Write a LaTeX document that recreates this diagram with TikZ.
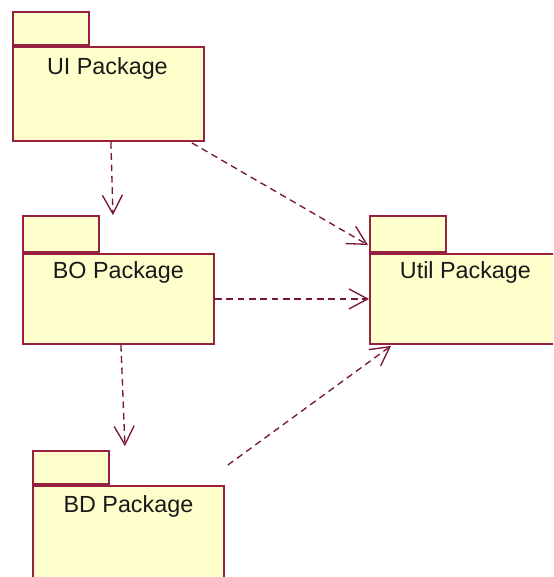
\documentclass[tikz,border=0pt]{standalone}
\usepackage{fontspec}
\setmainfont{Liberation Sans}
\usetikzlibrary{calc,arrows.meta}
\definecolor{pkgline}{RGB}{150,32,62}
\definecolor{pkgfill}{RGB}{255,255,204}
\definecolor{depline}{RGB}{120,20,60}
\tikzset{
  pkg/.style={draw=pkgline, fill=pkgfill, line width=1.4pt, inner sep=0pt},
  pkgbody/.style={pkg, anchor=north west, minimum width=191*0.75pt, minimum height=#1*0.75pt},
  pkgtab/.style={pkg, anchor=south west, minimum width=76*0.75pt, minimum height=#1*0.75pt},
  pkgtitle/.style={font=\fontsize{17.5}{20}\selectfont, text=black!90, inner sep=0pt},
  dep/.style={draw=depline, line width=1pt, dash pattern=on 5pt off 3.5pt,
    -{Straight Barb[length=14pt,width=15pt,line width=1pt]}}
}
\begin{document}
\begin{tikzpicture}[x=0.75pt, y=-0.75pt]
\useasboundingbox (0,0) rectangle (553,577);
\begin{scope}
\clip (0,0) rectangle (553,577);
% package bodies
\node[pkgbody=94] (ui) at (12,46) {};
\node[pkgbody=90] (bo) at (22,253) {};
\node[pkgbody=90] (util) at (369,253) {};
\node[pkgbody=110] (bd) at (32,485) {};
% package tabs
\node[pkgtab=33] (uitab) at (ui.north west) {};
\node[pkgtab=36] (botab) at (bo.north west) {};
\node[pkgtab=36] (utiltab) at (util.north west) {};
\node[pkgtab=33] (bdtab) at (bd.north west) {};
\end{scope}
% package names
\node[pkgtitle] (uiname) at ($(ui.north)+(-1,22)$) {UI Package};
\node[pkgtitle] (boname) at ($(bo.north)+(0,19)$) {BO Package};
\node[pkgtitle] (utilname) at ($(util.north)+(0,19)$) {Util Package};
\node[pkgtitle] (bdname) at ($(bd.north)+(0,21)$) {BD Package};
% dependencies
\draw[dep] ($(ui.south)+(2.5,0)$) -- ($(ui.south |- botab.north)+(4.5,0)$);
\draw[dep] ($(ui.south east)+(-13,1)$) -- ($(utiltab.south west)+(-1,-8)$);
\draw[dep] (bo.east) -- (bo.east -| util.west);
\draw[dep] ($(bo.south)+(2.5,0)$) -- ($(bo.south |- bdtab.north)+(6.5,-4)$);
\draw[dep] ($(bd.north east)+(3,-20)$) -- ($(util.south west)+(22,1)$);
\end{tikzpicture}
\end{document}
